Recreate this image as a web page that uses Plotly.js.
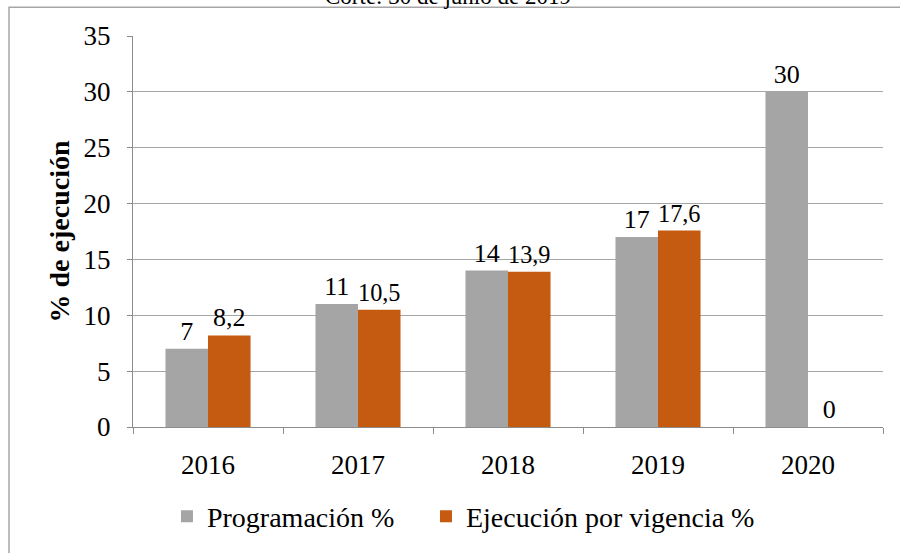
<!DOCTYPE html>
<html>
<head>
<meta charset="utf-8">
<script src="https://cdn.plot.ly/plotly-3.0.1.min.js"></script>
<style>html,body{margin:0;padding:0;background:#fff;}#chart{width:900px;height:553px;}</style>
</head>
<body>
<div id="chart"></div>
<script>
const years = ['2016', '2017', '2018', '2019', '2020'];
const programacion = [7, 11, 14, 17, 30];
const ejecucion = [8.2, 10.5, 13.9, 17.6, 0];
const programacionLabels = ['7', '11', '14', '17', '30'];
const ejecucionLabels = ['8,2', '10,5', '13,9', '17,6', '0'];
const yTicks = [0, 5, 10, 15, 20, 25, 30, 35];

const serif = 'Liberation Serif';

const traces = [
  {
    type: 'bar', name: 'Programación %', x: years, y: programacion,
    text: programacionLabels, textposition: 'outside', cliponaxis: false,
    textfont: {family: serif, size: 26, color: '#000'},
    marker: {color: '#A5A5A5'}, legendwidth: 214
  },
  {
    type: 'bar', name: 'Ejecución por vigencia %', x: years, y: ejecucion,
    text: ejecucionLabels, textposition: 'outside', cliponaxis: false,
    textfont: {family: serif, size: 26, color: '#000'},
    marker: {color: '#C55A11'}, legendwidth: 300
  }
];

const layout = {
  width: 900, height: 553,
  margin: {l: 133, r: 17, t: 36, b: 124},
  paper_bgcolor: '#fff', plot_bgcolor: '#fff',
  font: {family: serif, size: 27, color: '#000'},
  barmode: 'group', bargap: 0.433, bargroupgap: 0,
  showlegend: true,
  legend: {orientation: 'h', x: 0.0453, xanchor: 'left', y: -0.165, yanchor: 'top',
           font: {family: serif, size: 28, color: '#000'}, itemwidth: 30,
           entrywidthmode: 'pixels'},
  xaxis: {
    type: 'category', tickson: 'boundaries', ticks: 'outside', ticklen: 6,
    tickcolor: '#8c8c8c', showline: true, linecolor: '#8c8c8c', linewidth: 1,
    showgrid: false, tickfont: {family: serif, size: 27, color: '#000'}, ticklabelstandoff: 14
  },
  yaxis: {
    range: [0, 35], tickvals: yTicks, ticks: 'outside', ticklen: 5,
    tickcolor: '#8c8c8c', showline: true, linecolor: '#8c8c8c', linewidth: 1,
    showgrid: true, gridcolor: '#a6a6a6', gridwidth: 1, zeroline: false,
    tickfont: {family: serif, size: 27, color: '#000'}, ticklabelstandoff: 11,
    title: {text: '<b>% de ejecución</b>', font: {family: serif, size: 28, color: '#000'}, standoff: 5}
  },
  annotations: [{
    text: 'Corte: 30 de junio de 2019', xref: 'paper', yref: 'paper',
    x: 0.42, y: 1.064, xanchor: 'center', yanchor: 'bottom', showarrow: false,
    font: {family: serif, size: 23, color: '#000'}
  }],
  shapes: [{
    type: 'rect', xref: 'paper', yref: 'paper',
    x0: -0.1653, x1: 1.03, y0: -0.35, y1: 1.0738,
    line: {color: '#a6a6a6', width: 1.5}, fillcolor: 'rgba(0,0,0,0)', layer: 'below'
  }]
};

Plotly.newPlot('chart', traces, layout, {displayModeBar: false, staticPlot: true});
</script>
</body>
</html>
